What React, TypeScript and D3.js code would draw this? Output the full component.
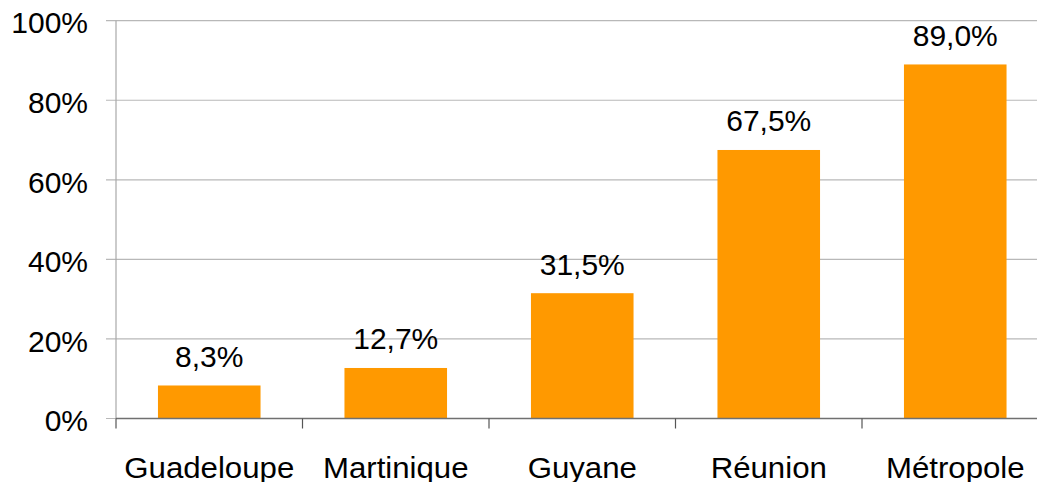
import React from "react";
import * as d3 from "d3";

const categories = ["Guadeloupe", "Martinique", "Guyane", "Réunion", "Métropole"];
const values = [8.3, 12.7, 31.5, 67.5, 89.0];
const valueLabels = ["8,3%", "12,7%", "31,5%", "67,5%", "89,0%"];
const yTicks = [0, 20, 40, 60, 80, 100];
const yTickLabels = ["0%", "20%", "40%", "60%", "80%", "100%"];

const W = 1037;
const H = 482;
const left = 116;
const right = 1048.5;
const top = 20.7;
const bottom = 418.5;
const FONT = "'Liberation Sans', Arial, sans-serif";

export default function App() {
  const x = d3.scaleBand<string>().domain(categories).range([left, right]).paddingInner(0.45).paddingOuter(0.225);
  const y = d3.scaleLinear().domain([0, 100]).range([bottom, top]);
  const step = x.step();
  const bw = x.bandwidth();

  return (
    <svg width={W} height={H} style={{ position: "absolute", left: 0, top: 0, background: "#fff" }}>
      {yTicks.map((t) => (
        <line key={"g" + t} x1={left - 10} x2={right} y1={y(t)} y2={y(t)} stroke="#b8b8b8" strokeWidth={1.2} />
      ))}
      <line x1={left} x2={left} y1={top} y2={bottom} stroke="#a8a8a8" strokeWidth={1.2} />
      {categories.map((c, i) => (
        <rect key={c} x={x(c)} y={y(values[i])} width={bw} height={y(0) - y(values[i])} fill="#FF9900" />
      ))}
      <line x1={left} x2={right} y1={bottom} y2={bottom} stroke="#707070" strokeWidth={1.3} />
      {categories.map((c, i) => (
        <line key={"t" + c} x1={left + i * step} x2={left + i * step} y1={bottom} y2={bottom + 10} stroke="#555" strokeWidth={1.2} />
      ))}
      {yTicks.map((t, i) => (
        <text key={"yl" + t} x={88} y={y(t) + 12.7} textAnchor="end" fontFamily={FONT} fontSize={30} fill="#000">
          {yTickLabels[i]}
        </text>
      ))}
      {categories.map((c, i) => (
        <text key={"v" + c} x={(x(c) as number) + bw / 2} y={y(values[i]) - 18.5} textAnchor="middle" fontFamily={FONT} fontSize={30} fill="#000">
          {valueLabels[i]}
        </text>
      ))}
      {categories.map((c) => (
        <text key={"c" + c} transform={`translate(${(x(c) as number) + bw / 2},477.5) scale(1.04,1)`} textAnchor="middle" fontFamily={FONT} fontSize={30} fill="#000">
          {c}
        </text>
      ))}
    </svg>
  );
}
